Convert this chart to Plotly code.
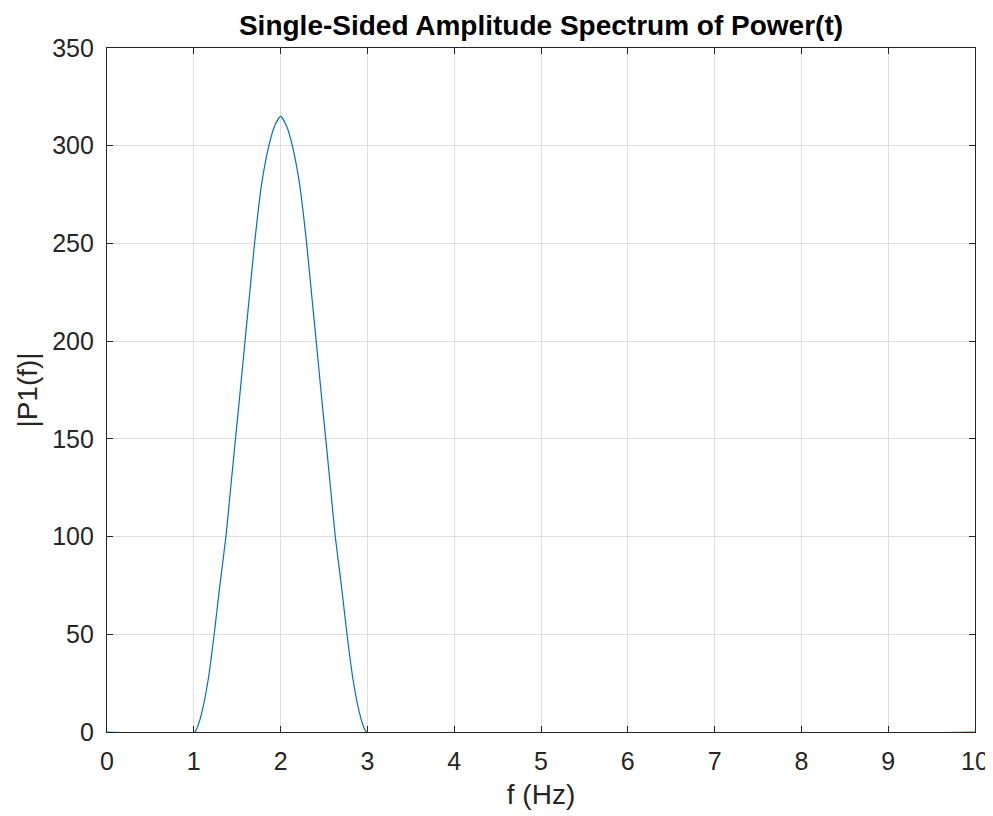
import plotly.graph_objects as go

# Frequency (Hz) and single-sided amplitude |P1(f)|
freq_hz = [0.0, 1.01, 1.05, 1.09, 1.165, 1.235, 1.30, 1.37, 1.425, 1.48, 1.525,
           1.59, 1.645, 1.70, 1.78, 1.865, 1.93, 2.0,
           2.07, 2.135, 2.22, 2.30, 2.355, 2.41, 2.475, 2.52, 2.575, 2.63,
           2.70, 2.765, 2.835, 2.91, 2.95, 2.99, 10.0]
amplitude = [0, 0, 3.5, 9.5, 26.6, 50, 75, 100, 125, 150, 170,
             200, 225, 250, 280, 300, 310, 315,
             310, 300, 280, 250, 225, 200, 170, 150, 125, 100,
             75, 50, 26.6, 9.5, 3.5, 0, 0]

x_ticks = [0, 1, 2, 3, 4, 5, 6, 7, 8, 9, 10]
y_ticks = [0, 50, 100, 150, 200, 250, 300, 350]

title_text = "Single-Sided Amplitude Spectrum of Power(t)"
x_label = "f (Hz)"
y_label = "|P1(f)|"

FONT = "Liberation Sans, Arial, Helvetica, sans-serif"
AX = "#262626"
GRID = "#dfdfdf"

fig = go.Figure()
fig.add_trace(go.Scatter(x=freq_hz, y=amplitude, mode="lines",
                         line=dict(color="#0072BD", width=1.2, shape="spline",
                                   smoothing=0.6),
                         showlegend=False, hoverinfo="x+y"))

axis_common = dict(
    showline=True, linecolor=AX, linewidth=1.3, mirror="ticks",
    ticks="inside", ticklen=6, tickwidth=1.3, tickcolor=AX,
    showgrid=True, gridcolor=GRID, gridwidth=1,
    zeroline=False,
    tickfont=dict(family=FONT, size=25, color=AX),
)

# The page body adds an 8 px offset, so the figure is 985x808
fig.update_layout(
    width=985, height=808,
    margin=dict(l=99, r=18, t=40, b=84),
    paper_bgcolor="white", plot_bgcolor="white",
    title=dict(text="<b>" + title_text + "</b>", x=0.5, xref="paper",
               y=1 - 17 / 808, yref="container", yanchor="middle", xanchor="center",
               font=dict(family=FONT, size=28, color="#000000")),
    xaxis=dict(range=[0, 10], tickvals=x_ticks, ticklabelstandoff=7,
               title=dict(text=x_label, standoff=10,
                          font=dict(family=FONT, size=28, color=AX)),
               automargin=False, **axis_common),
    yaxis=dict(range=[0, 350], tickvals=y_ticks, ticklabelstandoff=7,
               title=dict(text=y_label, standoff=6,
                          font=dict(family=FONT, size=28, color=AX)),
               automargin=False, **axis_common),
)

fig.write_html("out.html")
